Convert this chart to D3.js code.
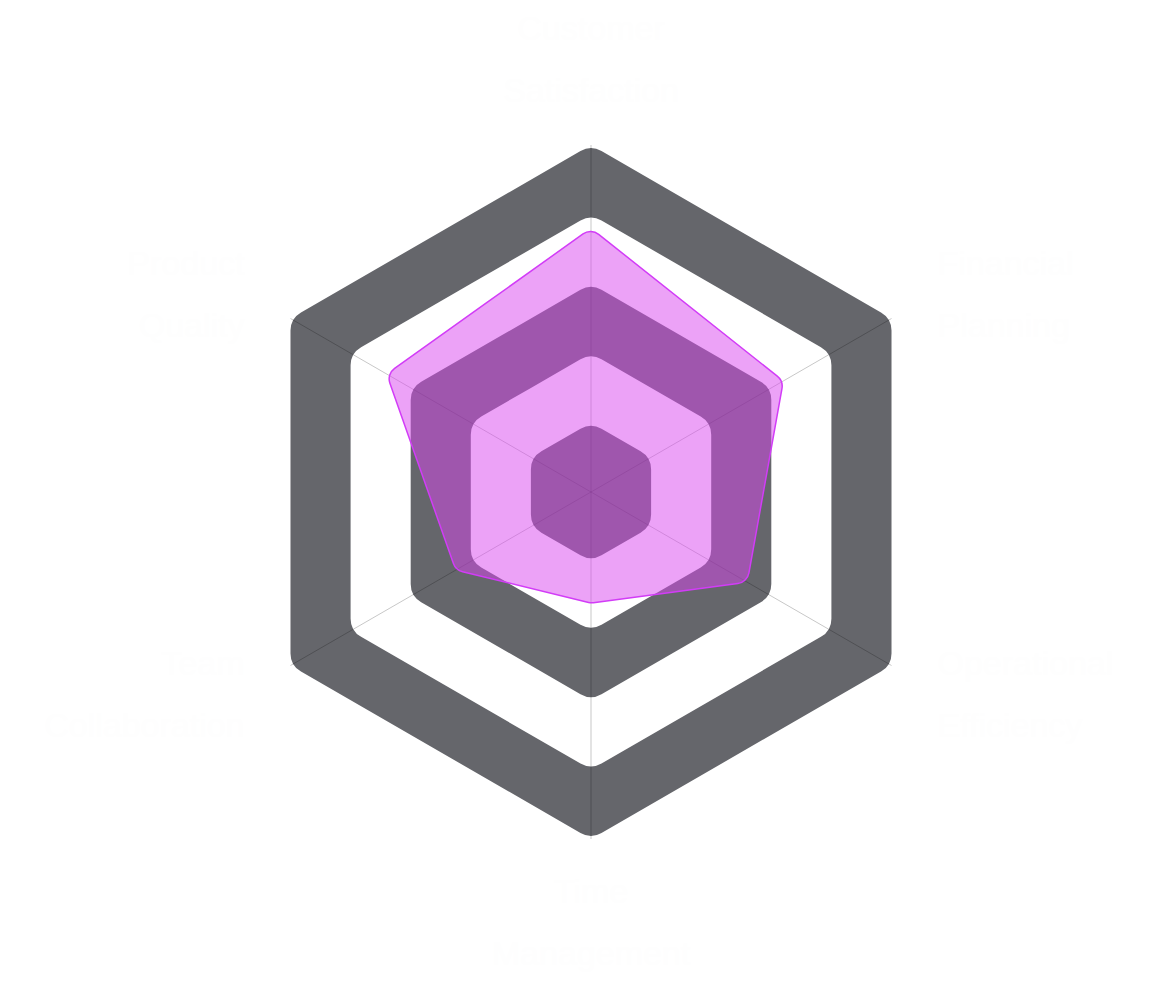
<!DOCTYPE html>
<html>
<head>
<meta charset="utf-8">
<script src="https://cdn.jsdelivr.net/npm/d3@7"></script>
<style>
  html, body { margin: 0; padding: 0; background: #ffffff; }
  svg { display: block; }
</style>
</head>
<body>
<div id="radar"></div>
<script>
// Axis names (two lines each), one value per axis, and ring levels.
var axes = [
    ['Customer', 'Satisfaction'],
    ['Financial', 'Planning'],
    ['Operational', 'Efficiency'],
    ['Time', 'Management'],
    ['Team', 'Collaboration'],
    ['Product', 'Quality']
];
var values = [76, 64, 52, 32, 45, 68];
var levels = [100, 80, 60, 40, 20];

// Page size and center of the web.
var width = 1154,
    height = 983;
var cx = 591, cy = 492, radius = 347;

var svg = d3.select('#radar')
    .append('svg')
        .attr('width', width)
        .attr('height', height)
    .append('g')
        .attr('transform', 'translate(' + cx + ', ' + cy + ')');

var r = d3.scaleLinear().domain([0, 100]).range([0, radius]);
var angle = d3.scaleLinear().domain([0, axes.length]).range([0, 2 * Math.PI]);

function point(i, v) {
    var a = angle(i);
    return [r(v) * Math.sin(a), -r(v) * Math.cos(a)];
}

// Polygon path with rounded corners, built with d3.path arcTo.
function roundedPath(pts, rad) {
    var p = d3.path();
    var n = pts.length;
    var last = pts[n - 1];
    p.moveTo((last[0] + pts[0][0]) / 2, (last[1] + pts[0][1]) / 2);
    for (var i = 0; i < n; i++) {
        var cur = pts[i], nxt = pts[(i + 1) % n];
        p.arcTo(cur[0], cur[1], nxt[0], nxt[1], rad);
    }
    p.closePath();
    return p.toString();
}

// Concentric hexagon bands, gray and white in turn.
svg.selectAll('.band')
    .data(levels)
    .enter().append('path')
        .attr('class', 'band')
        .attr('d', function(d){
            return roundedPath(axes.map(function(a, i){ return point(i, d); }), 21);
        })
        .attr('fill', function(d, i){ return i % 2 === 0 ? '#65666b' : '#ffffff'; });

// Spokes from the center out to each axis.
svg.selectAll('.spoke')
    .data(axes)
    .enter().append('line')
        .attr('class', 'spoke')
        .attr('x1', 0)
        .attr('y1', 0)
        .attr('x2', function(d, i){ return point(i, 100)[0]; })
        .attr('y2', function(d, i){ return point(i, 100)[1]; })
        .attr('stroke', 'rgba(0,0,0,0.22)')
        .attr('stroke-width', 1);

// The data shape.
svg.append('path')
    .attr('d', roundedPath(values.map(function(v, i){ return point(i, v); }), 13))
    .attr('fill', '#d946ef')
    .attr('fill-opacity', 0.5)
    .attr('stroke', '#d23cf7')
    .attr('stroke-width', 1.5);

// Axis labels (white text).
var labels = svg.selectAll('.label')
    .data(axes)
    .enter().append('text')
        .attr('class', 'label')
        .attr('fill', '#fefefe')
        .style('font', '34px "Liberation Sans", Arial, sans-serif')
        .attr('text-anchor', function(d, i){
            var x = point(i, 100)[0];
            return Math.abs(x) < 1 ? 'middle' : (x > 0 ? 'start' : 'end');
        })
        .attr('transform', function(d, i){
            var p = point(i, 115.3);
            var dy;
            if (i === 0) dy = -52;
            else if (i === 3) dy = 11;
            else dy = -17;
            return 'translate(' + p[0] + ', ' + (p[1] + dy) + ')';
        });

labels.selectAll('tspan')
    .data(function(d){ return d; })
    .enter().append('tspan')
        .attr('x', 0)
        .attr('dy', function(d, i){ return i === 0 ? 0 : 62; })
        .text(function(d){ return d; });
</script>
</body>
</html>
